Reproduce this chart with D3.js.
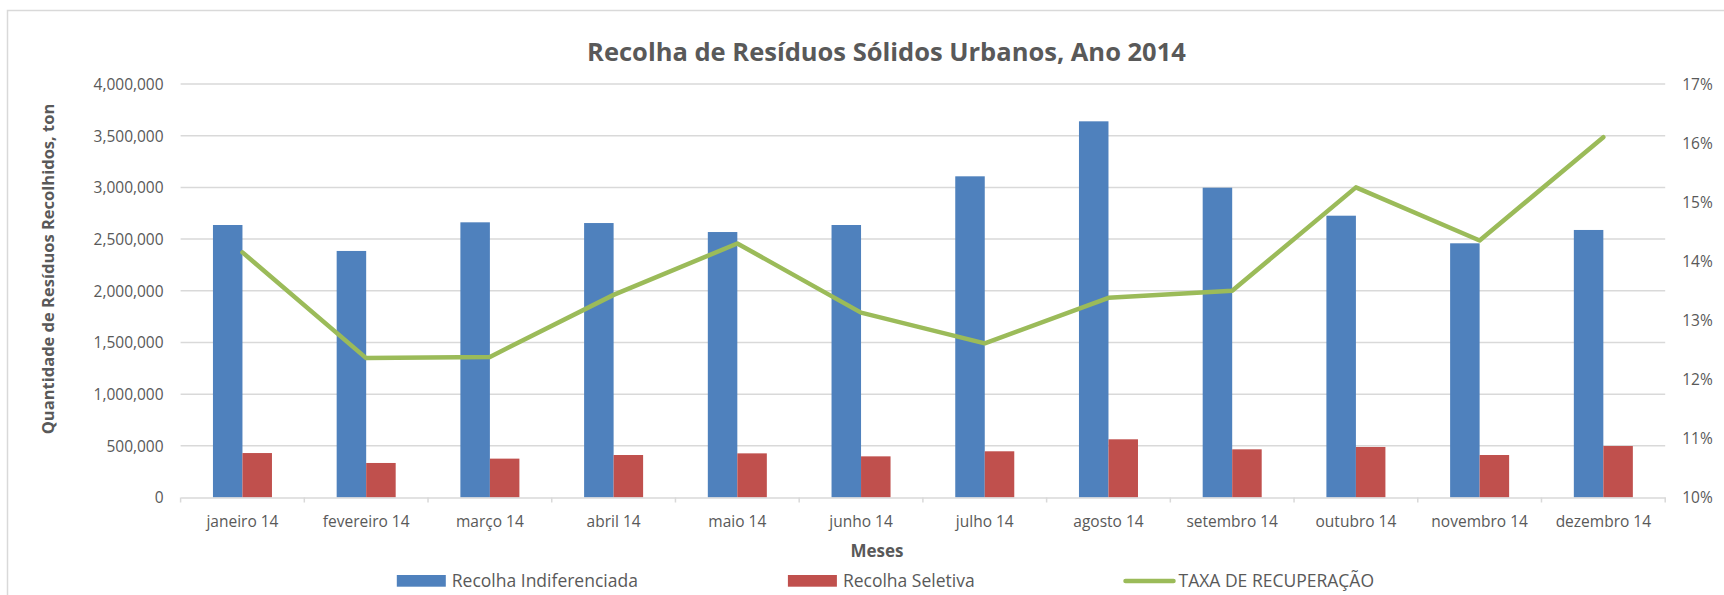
<!DOCTYPE html>
<html>
<head>
<meta charset="utf-8">
<script src="https://cdn.jsdelivr.net/npm/d3@7"></script>
<style>
  html, body { margin: 0; padding: 0; background: #fff; }
  svg { display: block; font-family: "Open Sans", "Noto Sans", sans-serif; }
  svg text { font-family: "Open Sans", "Noto Sans", sans-serif; }
</style>
</head>
<body>
<svg id="chart" width="1724" height="595"></svg>
<script>
// ---- data ----
const months = ["janeiro 14","fevereiro 14","março 14","abril 14","maio 14","junho 14",
                "julho 14","agosto 14","setembro 14","outubro 14","novembro 14","dezembro 14"];
const indiferenciada = [2636000, 2385000, 2662000, 2655000, 2568000, 2636000,
                        3107000, 3639000, 2997000, 2726000, 2459000, 2588000];
const seletiva = [430000, 334000, 376000, 411000, 427000, 398000,
                  447000, 563000, 466000, 489000, 411000, 498000];
const taxa = [0.1415, 0.1236, 0.1238, 0.1343, 0.1430, 0.1313,
              0.1261, 0.1338, 0.1350, 0.1525, 0.1435, 0.1610];
const leftTicks = [0, 500000, 1000000, 1500000, 2000000, 2500000, 3000000, 3500000, 4000000];
const rightTicks = [0.10, 0.11, 0.12, 0.13, 0.14, 0.15, 0.16, 0.17];
const seriesNames = ["Recolha Indiferenciada", "Recolha Seletiva", "TAXA DE RECUPERAÇÃO"];
const titleText = "Recolha de Resíduos Sólidos Urbanos, Ano 2014";
const yTitle = "Quantidade de Resíduos Recolhidos, ton";
const xTitle = "Meses";

// ---- layout ----
const colors = { blue: "#4F81BD", red: "#C0504D", green: "#9BBB59", grid: "#D9D9D9", text: "#595959" };
const plot = { left: 180.6, right: 1665.2, top: 84, bottom: 497.5 };
const FONT = '"Open Sans", "Noto Sans", sans-serif';

const svg = d3.select("#chart");

// chart border (extends past the page on right/bottom)
svg.append("rect").attr("x", 7.5).attr("y", 10.5).attr("width", 2000).attr("height", 1000)
  .attr("fill", "#fff").attr("stroke", colors.grid).attr("stroke-width", 1.5);

const x = d3.scaleBand().domain(months).range([plot.left, plot.right]).padding(0);
const y = d3.scaleLinear().domain([0, 4000000]).range([plot.bottom, plot.top]);
const y2 = d3.scaleLinear().domain([0.10, 0.17]).range([plot.bottom, plot.top]);
const barW = x.bandwidth() * 0.2385;

// gridlines
svg.append("g").selectAll("line").data(leftTicks.slice(1)).join("line")
  .attr("x1", plot.left).attr("x2", plot.right)
  .attr("y1", d => y(d)).attr("y2", d => y(d))
  .attr("stroke", colors.grid).attr("stroke-width", 1.5);

// left axis
const yAxis = d3.axisLeft(y).tickValues(leftTicks).tickSize(0).tickPadding(0)
  .tickFormat(d3.format(","));
const gy = svg.append("g").attr("transform", `translate(${plot.left - 17},0)`).call(yAxis)
  .attr("font-family", FONT).attr("font-size", null);
gy.select(".domain").remove();
gy.selectAll("text").attr("fill", colors.text).style("font-size", "15.5px")
  .attr("dy", "0.35em");

// right axis
const y2Axis = d3.axisRight(y2).tickValues(rightTicks).tickSize(0).tickPadding(0)
  .tickFormat(d3.format(".0%"));
const gy2 = svg.append("g").attr("transform", `translate(${plot.right + 17},0)`).call(y2Axis)
  .attr("font-family", FONT).attr("font-size", null);
gy2.select(".domain").remove();
gy2.selectAll("text").attr("fill", colors.text).style("font-size", "15.5px")
  .attr("dy", "0.35em");

// bars
const gBars = svg.append("g");
gBars.selectAll("rect.ind").data(months).join("rect").attr("class", "ind")
  .attr("x", (d) => x(d) + x.bandwidth() / 2 - barW)
  .attr("y", (d, i) => y(indiferenciada[i]))
  .attr("width", barW)
  .attr("height", (d, i) => y(0) - y(indiferenciada[i]))
  .attr("fill", colors.blue);
gBars.selectAll("rect.sel").data(months).join("rect").attr("class", "sel")
  .attr("x", (d) => x(d) + x.bandwidth() / 2)
  .attr("y", (d, i) => y(seletiva[i]))
  .attr("width", barW)
  .attr("height", (d, i) => y(0) - y(seletiva[i]))
  .attr("fill", colors.red);

// x axis
const xAxis = d3.axisBottom(x).tickSize(0).tickPadding(0);
const gx = svg.append("g").attr("transform", `translate(0,${plot.bottom})`).call(xAxis)
  .attr("font-family", FONT).attr("font-size", null);
gx.select(".domain").attr("stroke", colors.grid).attr("stroke-width", 1.5);
gx.selectAll("text").attr("fill", colors.text).style("font-size", "15.5px")
  .attr("y", 0).attr("dy", "29px");
const boundaries = months.map(m => x(m)).concat([plot.right]);
gx.selectAll("line.bt").data(boundaries).join("line").attr("class", "bt")
  .attr("x1", d => d).attr("x2", d => d).attr("y1", 0).attr("y2", 5)
  .attr("stroke", colors.grid).attr("stroke-width", 1.5);

// line
const line = d3.line().x((d, i) => x(months[i]) + x.bandwidth() / 2).y(d => y2(d));
svg.append("path").datum(taxa).attr("d", line)
  .attr("fill", "none").attr("stroke", colors.green).attr("stroke-width", 4.5)
  .attr("stroke-linejoin", "round").attr("stroke-linecap", "round");

// titles
svg.append("text").attr("x", 886.5).attr("y", 61).attr("text-anchor", "middle")
  .attr("fill", colors.text).style("font-size", "25.5px").style("font-weight", "bold")
  .text(titleText);
svg.append("text").attr("x", 877).attr("y", 556.5).attr("text-anchor", "middle")
  .attr("fill", colors.text).style("font-size", "17px").style("font-weight", "bold")
  .text(xTitle);
svg.append("text").attr("transform", "translate(53.5,269) rotate(-90)").attr("text-anchor", "middle")
  .attr("fill", colors.text).style("font-size", "16.5px").style("font-weight", "bold")
  .text(yTitle);

// legend
const legend = svg.append("g");
const legItems = [
  { name: seriesNames[0], x: 396.8, type: "rect", color: colors.blue },
  { name: seriesNames[1], x: 787.9, type: "rect", color: colors.red },
  { name: seriesNames[2], x: 1123.5, type: "line", color: colors.green }
];
legItems.forEach(it => {
  if (it.type === "rect") {
    legend.append("rect").attr("x", it.x).attr("y", 575).attr("width", 49).attr("height", 11.7)
      .attr("fill", it.color);
  } else {
    legend.append("line").attr("x1", it.x + 2).attr("x2", it.x + 50).attr("y1", 581).attr("y2", 581)
      .attr("stroke", it.color).attr("stroke-width", 4.5).attr("stroke-linecap", "round");
  }
  legend.append("text").attr("x", it.x + 55).attr("y", 581).attr("dy", "0.35em")
    .attr("fill", colors.text).style("font-size", "17.5px").text(it.name);
});
</script>
</body>
</html>
